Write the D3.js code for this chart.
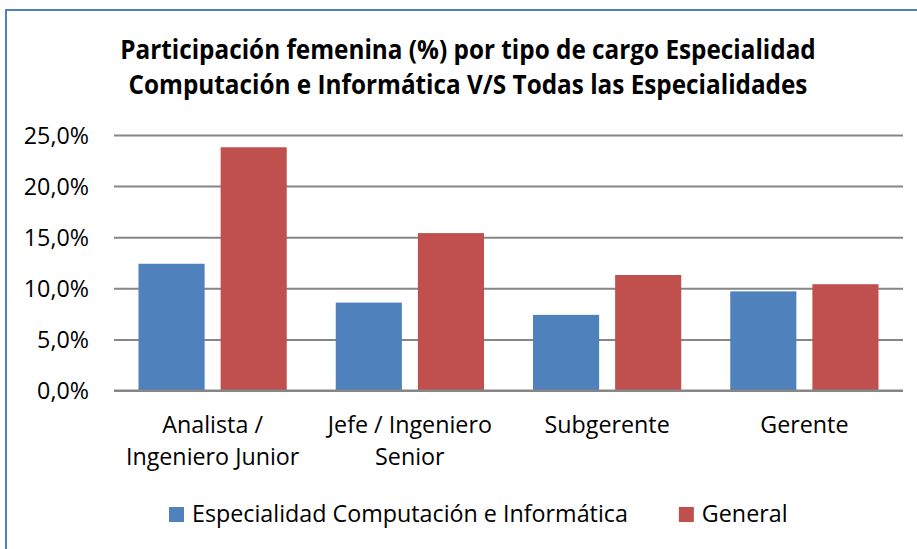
<!DOCTYPE html>
<html>
<head>
<meta charset="utf-8">
<script src="https://cdn.jsdelivr.net/npm/d3@7"></script>
<style>
  body { margin: 0; background: #fff; }
  text { font-family: "Open Sans", sans-serif; fill: #000; }
</style>
</head>
<body>
<div class="chart"></div>
<script>
var svgWidth = 917;
var svgHeight = 549;

// chart data
var categories = ["Analista / Ingeniero Junior", "Jefe / Ingeniero Senior", "Subgerente", "Gerente"];
var categoryLines = [["Analista /", "Ingeniero Junior"], ["Jefe / Ingeniero", "Senior"], ["Subgerente"], ["Gerente"]];
var seriesNames = ["Especialidad Computación e Informática", "General"];
var computacionValues = [12.4, 8.6, 7.4, 9.7];
var generalValues = [23.8, 15.4, 11.3, 10.4];
var yTicks = [0, 5, 10, 15, 20, 25];
var titleLines = ["Participación femenina (%) por tipo de cargo Especialidad",
  "Computación e Informática V/S Todas las Especialidades"];

var colors = ["#4f81bd", "#c0504d"];

var plot = { left: 114, right: 903, top: 135, bottom: 390.5 };

// Calibri is a bit narrower than Open Sans, squeeze text slightly
var squeeze = 0.97;
function fit(sel, k) {
  sel.each(function () {
    var w = this.getComputedTextLength();
    d3.select(this).attr("textLength", w * k).attr("lengthAdjust", "spacingAndGlyphs");
  });
}

var svg = d3.select(".chart")
  .append("svg")
  .attr("width", svgWidth)
  .attr("height", svgHeight);

// outer border
svg.append("rect")
  .attr("x", 6)
  .attr("y", 10)
  .attr("width", 1000)
  .attr("height", 1000)
  .attr("fill", "none")
  .attr("stroke", "#4f81bd")
  .attr("stroke-width", 2);

// title
svg.selectAll(".title")
  .data(titleLines)
  .enter().append("text")
  .attr("class", "title")
  .attr("x", 468)
  .attr("y", (d, i) => 59 + i * 35)
  .attr("text-anchor", "middle")
  .attr("font-size", "26px")
  .attr("font-weight", "bold")
  .text(d => d)
  .call(fit, 0.935);

var yScale = d3.scaleLinear()
  .domain([0, 25])
  .range([plot.bottom, plot.top]);

var x0 = d3.scaleBand()
  .domain(categories)
  .range([plot.left, plot.right])
  .padding(0);

var x1 = d3.scaleBand()
  .domain(seriesNames)
  .range([24.5, x0.bandwidth() - 24.5])
  .paddingInner(0.195)
  .paddingOuter(0);

var locale = d3.formatLocale({ decimal: ",", thousands: ".", grouping: [3], currency: ["", "€"] });
var fmt = locale.format(".1f");

// gridlines
var leftAxis = d3.axisLeft(yScale)
  .tickValues(yTicks)
  .tickSize(-(plot.right - plot.left))
  .tickPadding(25)
  .tickFormat(d => fmt(d) + "%");

var yAxis = svg.append("g")
  .attr("transform", `translate(${plot.left}, 0)`)
  .call(leftAxis);

yAxis.select(".domain").remove();
yAxis.selectAll(".tick line")
  .attr("stroke", "#868686")
  .attr("stroke-width", 2);
yAxis.selectAll(".tick text")
  .attr("font-size", "24px")
  .attr("font-family", "Open Sans, sans-serif")
  .attr("fill", "#000")
  .attr("dy", "0.35em")
  .call(fit, squeeze);

// bars
var rows = categories.map((c, i) => ({ cat: c, values: [computacionValues[i], generalValues[i]] }));

var groups = svg.selectAll(".group")
  .data(rows)
  .enter().append("g")
  .attr("class", "group")
  .attr("transform", d => `translate(${x0(d.cat)}, 0)`);

groups.selectAll("rect")
  .data(d => d.values.map((v, j) => ({ name: seriesNames[j], value: v, idx: j })))
  .enter().append("rect")
  .attr("x", d => x1(d.name))
  .attr("y", d => yScale(d.value))
  .attr("width", x1.bandwidth())
  .attr("height", d => yScale(0) - yScale(d.value))
  .attr("fill", d => colors[d.idx]);

// redraw baseline over the bars
svg.append("line")
  .attr("x1", plot.left)
  .attr("x2", plot.right)
  .attr("y1", yScale(0))
  .attr("y2", yScale(0))
  .attr("stroke", "#868686")
  .attr("stroke-width", 2);

// category labels
var catLabels = svg.selectAll(".cat")
  .data(categories)
  .enter().append("g")
  .attr("class", "cat");

catLabels.selectAll("text")
  .data((d, i) => categoryLines[i].map(t => ({ t: t, cat: d })))
  .enter().append("text")
  .attr("x", d => x0(d.cat) + x0.bandwidth() / 2)
  .attr("y", (d, i) => 433 + i * 32)
  .attr("text-anchor", "middle")
  .attr("font-size", "24px")
  .text(d => d.t)
  .call(fit, squeeze);

// legend
var legend = svg.append("g").attr("class", "legend");
var lx = 169;
seriesNames.forEach(function (name, i) {
  legend.append("rect")
    .attr("x", lx)
    .attr("y", 507)
    .attr("width", 15)
    .attr("height", 15)
    .attr("fill", colors[i]);
  var t = legend.append("text")
    .attr("x", lx + 23)
    .attr("y", 522)
    .attr("font-size", "24px")
    .text(name);
  var w = t.node().getComputedTextLength() * squeeze;
  t.call(fit, squeeze);
  lx = lx + 23 + w + 51;
});
</script>
</body>
</html>
